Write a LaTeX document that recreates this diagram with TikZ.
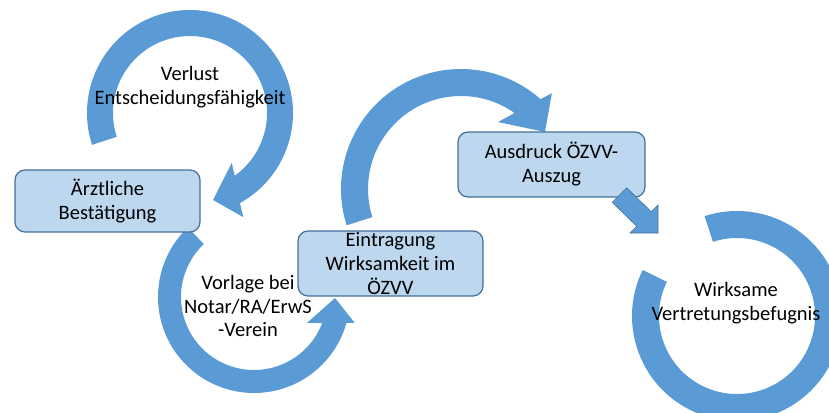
\documentclass[tikz,border=0pt]{standalone}
\usepackage{fontspec}
\setmainfont{Carlito}
\usetikzlibrary{calc}
\definecolor{pfeilblau}{RGB}{91,155,213}
\definecolor{kastenblau}{RGB}{189,215,238}
\definecolor{randblau}{RGB}{65,113,156}

\begin{document}
\begin{tikzpicture}[x=1pt,y=1pt,
        bogen/.style={fill=pfeilblau},
        kasten/.style={draw=randblau, line width=1.2pt, fill=kastenblau, rounded corners=10pt,
            inner sep=0pt, align=center, font=\fontsize{20.5}{24}\selectfont},
        beschriftung/.style={align=center, inner sep=0pt, font=\fontsize{20.5}{23.5}\selectfont}]
        \useasboundingbox (0,0) rectangle (829,-412);
        \clip (0,0) rectangle (829,-412);

        % Mittelpunkte der Kreispfeile
        \coordinate (m1) at (190,-113);
        \coordinate (m2) at (254,-297);
        \coordinate (m3) at (461,-189);
        \coordinate (m4) at (737,-316);

        % Kreispfeil Verlust
        \fill[bogen] ($(m1)+(198:103)$) arc[start angle=198, end angle=-61, radius=103]
            -- ($(m1)+(-62.9:117)$) -- ($(m1)+(-75.2:90)$) -- ($(m1)+(-50:65)$)
            -- ($(m1)+(-54.6:77)$) arc[start angle=-54.6, end angle=198, radius=77] -- cycle;

        % Kreispfeil Vorlage
        \fill[bogen] ($(m2)+(133.5:96)$) arc[start angle=133.5, end angle=344.3, radius=96]
            -- ($(m2)+(345.6:104)$) -- ($(m2)+(359.3:81)$) -- ($(m2)+(333.9:59)$)
            -- ($(m2)+(339.1:73)$) arc[start angle=339.1, end angle=133.5, radius=73] -- cycle;

        % Kreispfeil Eintragung
        \fill[bogen] ($(m3)+(197.6:120)$) arc[start angle=197.6, end angle=48.5, radius=120]
            -- ($(m3)+(46.5:132)$) -- ($(m3)+(34.2:101.5)$) -- ($(m3)+(61.1:76.5)$)
            -- ($(m3)+(54.8:93)$) arc[start angle=54.8, end angle=197.6, radius=93] -- cycle;

        % Kreis Wirksame Vertretungsbefugnis
        \fill[bogen] ($(m4)+(108:105)$) arc[start angle=108, end angle=-206, radius=105]
            -- ($(m4)+(154:78)$) arc[start angle=154, end angle=468, radius=78] -- cycle;

        % Kaesten
        \node[kasten, minimum width=185pt, minimum height=62pt] (aerztlich) at (107.5,-201)
            {Ärztliche\\Bestätigung};
        \node[kasten, minimum width=185pt, minimum height=65pt] (eintrag) at (390.5,-263.5) {};
        \node[beschriftung, font=\fontsize{20.5}{24}\selectfont] (eintragtext) at (eintrag)
            {Eintragung\\Wirksamkeit im\\ÖZVV};
        \node[kasten, minimum width=187pt, minimum height=65pt] (ausdruck) at (551.5,-164.5)
            {Ausdruck ÖZVV-\\Auszug};

        % gerader Pfeil
        \filldraw[bogen, draw=randblau, line width=0.6pt] (612.25,-202.25) -- (626.75,-187.75)
            -- (651.25,-211.75) -- (658,-205) -- (658,-233) -- (630,-233) -- (636.75,-226.25) -- cycle;

        % Texte in den Kreisen
        \node[beschriftung] (verlust) at (190,-87) {Verlust\\Entscheidungsfähigkeit};
        \node[beschriftung] (vorlage) at (248,-306) {Vorlage bei\\Notar/RA/ErwS\\-Verein};
        \node[beschriftung] (wirksame) at (736,-303) {Wirksame\\Vertretungsbefugnis};
    \end{tikzpicture}
\end{document}
